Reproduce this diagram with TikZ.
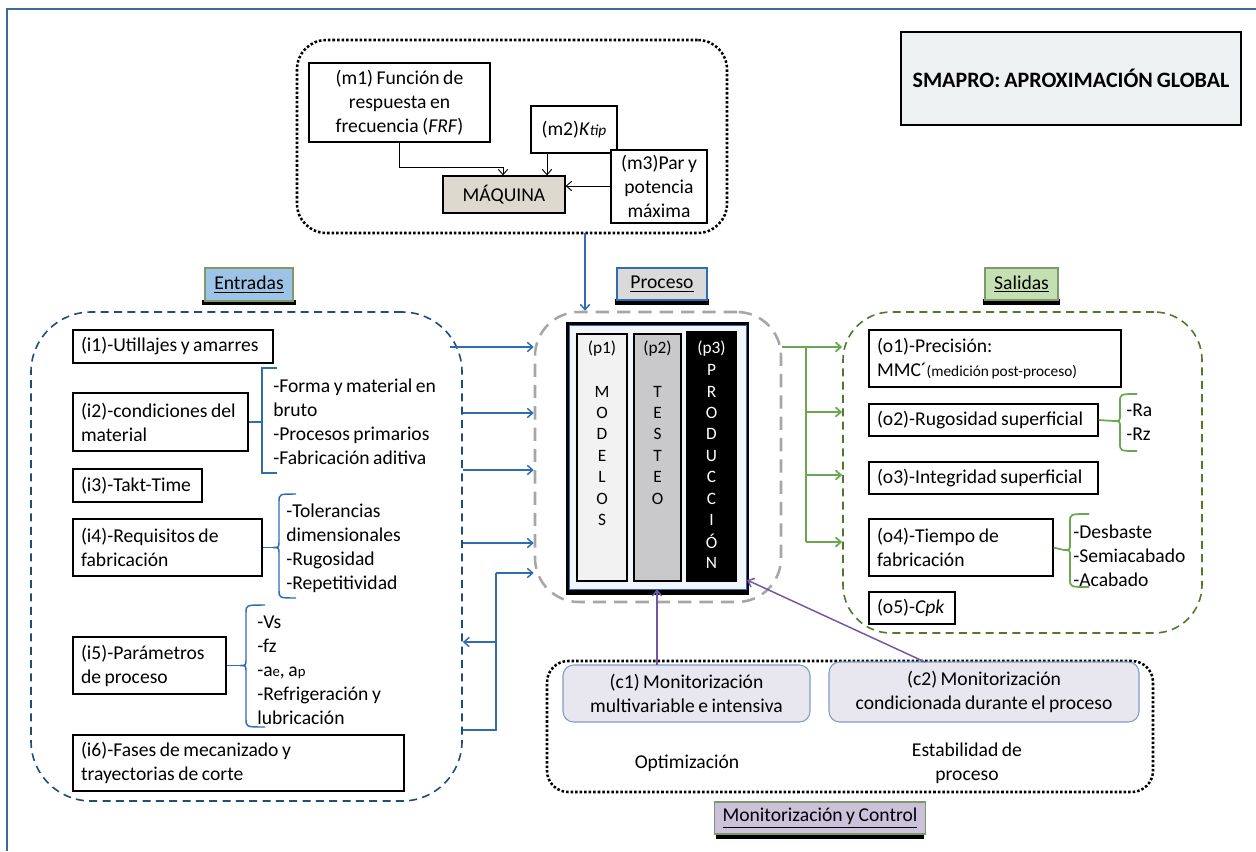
\documentclass[tikz,border=0pt]{standalone}
\usepackage{fontspec}
\setmainfont{Carlito}[WordSpace=0.8]
\usetikzlibrary{arrows.meta,calc}

\definecolor{frameblue}{HTML}{3C6A9C}
\definecolor{arrblue}{HTML}{2E6DB0}
\definecolor{entblue}{HTML}{1F4E79}
\definecolor{salgreen}{HTML}{4F7A2A}
\definecolor{arrgreen}{HTML}{6AA84F}
\definecolor{procgray}{HTML}{A6A6A6}
\definecolor{mpurple}{HTML}{7457A0}
\definecolor{titlegray}{HTML}{EEF1F2}
\definecolor{maqfill}{HTML}{DDD9CE}
\definecolor{entfill}{HTML}{9DC3E6}
\definecolor{salfill}{HTML}{C4DFB2}
\definecolor{profill}{HTML}{DADADA}
\definecolor{monfill}{HTML}{CCC1DA}
\definecolor{lblborder}{HTML}{7F9A68}
\definecolor{cfill}{HTML}{E8E6EF}
\definecolor{cborder}{HTML}{7E9CC6}
\definecolor{p1fill}{HTML}{F2F2F2}
\definecolor{p2fill}{HTML}{C9C9CC}
\definecolor{pinfill}{HTML}{F2F5FA}

\newcommand{\tbox}[7][]{%
  \pgfmathsetmacro{\tbW}{(#5-#3)*0.75}%
  \pgfmathsetmacro{\tbH}{(#6-#4)*0.75}%
  \pgfmathsetmacro{\tbT}{\tbW-12}%
  \node[tbox,minimum width=\tbW pt,minimum height=\tbH pt,text width=\tbT pt,#1] (#2) at ({(#3+#5)/2},{(#4+#6)/2}) {#7};}

% curly brace: #1 style, #2 xb, #3 xe, #4 yt, #5 ym, #6 yb, #7 tip x
\newcommand{\cbrace}[7]{%
  \draw[#1] (#3,#4) .. controls (#2,#4) .. (#2,#4+8) -- (#2,#5-7)
     .. controls (#2,#5) .. (#7,#5) .. controls (#2,#5) .. (#2,#5+7)
     -- (#2,#6-8) .. controls (#2,#6) .. (#3,#6);}

\begin{document}
\begin{tikzpicture}[x=0.75pt,y=-0.75pt,
  font=\fontsize{14.7}{18}\selectfont,
  tbox/.style={draw=black,line width=0.9pt,fill=white,inner xsep=6pt,inner ysep=0pt,align=flush left},
  cbox/.style={align=center,text width={}},
  frame/.style={fill=none,text width={}},
  lbl/.style={cbox,draw=lblborder,line width=0.8pt},
  ltext/.style={inner sep=0pt,anchor=west,align=left},
  ctext/.style={inner sep=0pt,align=center},
  coltext/.style={inner sep=0pt,font=\fontsize{13}{15}\selectfont},
  tip/.style={-{Straight Barb[length=4pt,width=7pt]}},
  karr/.style={tip,draw=black,line width=0.7pt},
  barr/.style={tip,draw=arrblue,line width=1.1pt},
  bline/.style={draw=arrblue,line width=1.1pt},
  garr/.style={tip,draw=arrgreen,line width=1.3pt},
  gline/.style={draw=arrgreen,line width=1.3pt},
  parr/.style={tip,draw=mpurple,line width=1.1pt},
  bbrace/.style={draw=arrblue,line width=1.1pt},
  gbrace/.style={draw=arrgreen,line width=1.3pt},
]
\useasboundingbox (0,0) rectangle (1256,851);

% outer frame
\draw[frameblue,line width=2.2pt] (7,851) -- (7,9) -- (1256,9);

% title
\tbox[cbox,fill=titlegray,line width=1.5pt,font=\fontsize{16.5}{19}\selectfont\bfseries]{title}{901}{32}{1241}{125}{SMAPRO: APROXIMACIÓN GLOBAL}

% ---------- machine ----------
\tbox[frame,draw=black,line width=1.9pt,dash pattern=on 1.9pt off 1.5pt,rounded corners=22pt]{mfr}{297}{40}{727}{233}{}
\tbox[cbox]{m1}{309}{63}{490}{142}{(m1) Función de\\respuesta en\\frecuencia (\textit{FRF})}
\tbox[cbox]{m2}{531}{106}{617}{153}{(m2)\textit{K}{\fontsize{11.5}{12}\selectfont\textit{tip}}}
\tbox[cbox]{m3}{611}{150}{707}{223}{(m3)Par y\\potencia\\máxima}
\tbox[cbox,fill=maqfill]{maq}{443}{176}{565}{213}{MÁQUINA}
\coordinate (m1j) at (503,167);
\draw[karr] (m1.south) |- (m1j) -- (m1j |- maq.north);
\coordinate (m2a) at (547,153);
\draw[karr] (m2a) -- (m2a |- maq.north);
\draw[karr] (m3.west |- 0,186) -- (maq.east |- 0,186);

% ---------- labels ----------
\fill[black] (202,300) rectangle (296,305);
\tbox[lbl,fill=entfill]{lent}{205}{268}{293}{301}{\underline{Entradas}}
\fill[black] (615,299) rectangle (709,305);
\tbox[lbl,fill=profill,draw=arrblue]{lpro}{617}{268}{707}{300}{\underline{Proceso}}
\fill[black] (983,299) rectangle (1060,305);
\tbox[lbl,fill=salfill]{lsal}{985}{268}{1058}{300}{\underline{Salidas}}
\fill[black] (716,833) rectangle (924,839);
\tbox[lbl,fill=monfill]{lmon}{718}{802}{922}{834}{\underline{Monitorización y Control}}

% ---------- frames ----------
\tbox[frame,draw=entblue,line width=1.2pt,dash pattern=on 6pt off 4pt,rounded corners=45pt]{ent}{31}{312}{462}{801}{}
\tbox[frame,draw=procgray,line width=1.9pt,dash pattern=on 10pt off 6pt,rounded corners=33pt]{proc}{535}{312}{781}{602}{}
\tbox[frame,draw=salgreen,line width=1.2pt,dash pattern=on 6pt off 4pt,rounded corners=36pt]{sal}{843}{312}{1202}{633}{}
\tbox[frame,draw=black,line width=1.9pt,dash pattern=on 1.9pt off 1.5pt,rounded corners=16pt]{mon}{547}{661}{1153}{792}{}

% machine -> process
\coordinate (ma) at (585,233);
\draw[barr] (ma) -- (ma |- proc.north);

% ---------- process block ----------
\fill[black] (566,322) rectangle (749,595);
\tbox[frame,fill=pinfill,draw=arrblue,line width=0.7pt]{pin}{569}{325}{746}{589}{}
\tbox[frame,fill=p1fill,line width=1.3pt]{p1}{577}{334}{627}{581}{}
\tbox[frame,fill=p2fill,line width=1.3pt]{p2}{634}{334}{681}{581}{}
\tbox[frame,fill=black,line width=1.3pt]{p3}{687}{332}{736}{581}{}
\node[coltext] (p1h) at (602,349) {(p1)};
\foreach \t [count=\k] in {M,O,D,E,L,O,S}
  \node[coltext] (p1l\k) at (602,{370+\k*21.45}) {\t};
\node[coltext] (p2h) at (657.5,349) {(p2)};
\foreach \t [count=\k] in {T,E,S,T,E,O}
  \node[coltext] (p2l\k) at (657.5,{370+\k*21.45}) {\t};
\node[coltext,text=white] (p3h) at (711.5,349) {(p3)};
\foreach \t [count=\k] in {P,R,O,D,U,C,C,I,Ó,N}
  \node[coltext,text=white] (p3l\k) at (711.5,{370+(\k-1)*21.45}) {\t};

% ---------- inputs ----------
\tbox{i1}{73}{330}{273}{363}{(i1)-Utillajes y amarres}
\tbox{i2}{73}{393}{248}{451}{(i2)-condiciones del\\material}
\tbox{i3}{73}{469}{202}{502}{(i3)-Takt-Time}
\tbox{i4}{73}{519}{262}{576}{(i4)-Requisitos de\\fabricación}
\tbox{i5}{73}{637}{226}{694}{(i5)-Parámetros\\de proceso}
\tbox{i6}{73}{735}{404}{791}{(i6)-Fases de mecanizado y\\trayectorias de corte}

\draw[bbrace] (i2.east) -- (262,422);
\draw[bbrace] (277,368) -- (262,368) -- (262,473) -- (277,473);
\node[ltext] (i2l) at (273,421.5) {-Forma y material en\\bruto\\-Procesos primarios\\-Fabricación aditiva};

\draw[bbrace] (i4.east) -- (273,547.5);
\cbrace{bbrace}{279}{296}{494}{547.5}{598}{273}
\node[ltext] (i4l) at (286,548.5) {-Tolerancias\\dimensionales\\-Rugosidad\\-Repetitividad};

\draw[bbrace] (i5.east) -- (240,665.5);
\cbrace{bbrace}{246}{265}{605}{665.5}{727}{240}
\node[ltext] (i5l) at (257,670) {-Vs\\-fz\\-a{\fontsize{11}{12}\selectfont e}, a{\fontsize{11}{12}\selectfont p}\\-Refrigeración y\\lubricación};

% input arrows
\draw[barr] (450,347) -- (proc.west |- 0,347);
\draw[barr] (ent.east |- 0,413) -- (proc.west |- 0,413);
\draw[barr] (ent.east |- 0,470) -- (proc.west |- 0,470);
\draw[barr] (ent.east |- 0,543) -- (proc.west |- 0,543);
\coordinate (ib) at (496,573);
\draw[bline] (ent.east |- 0,730) -| (ib);
\draw[barr] (ib) -- (proc.west |- ib);
\draw[barr] (496,642) -- (ent.east |- 0,642);

% ---------- outputs ----------
\tbox{o1}{869}{330}{1121}{387}{(o1)-Precisión:\\MMC´{\fontsize{11.5}{12}\selectfont(medición post-proceso)}}
\tbox{o2}{869}{404}{1098}{436}{(o2)-Rugosidad superficial}
\tbox{o3}{869}{462}{1098}{494}{(o3)-Integridad superficial}
\tbox{o4}{869}{519}{1053}{576}{(o4)-Tiempo de\\fabricación}
\tbox{o5}{869}{592}{955}{624}{(o5)-\textit{Cpk}}

\draw[gbrace] (o2.east) -- (1114,421);
\cbrace{gbrace}{1120}{1137}{394}{421}{451}{1114}
\node[ltext] (o2l) at (1126,422) {-Ra\\-Rz};

\draw[gbrace] (o4.east) -- (1064,550);
\cbrace{gbrace}{1070}{1089}{514}{550}{587}{1064}
\node[ltext] (o4l) at (1073,555.7) {-Desbaste\\-Semiacabado\\-Acabado};

% output arrows
\coordinate (gv) at (806,347);
\draw[garr] (proc.east |- gv) -- (sal.west |- gv);
\draw[gline] (gv) -- (806,542);
\draw[garr] (806,412) -- (sal.west |- 0,412);
\draw[garr] (806,475) -- (sal.west |- 0,475);
\draw[garr] (806,542) -- (sal.west |- 0,542);

% ---------- monitoring ----------
\tbox[cbox,fill=cfill,draw=cborder,rounded corners=8pt,line width=0.8pt]{c1}{563}{665}{810}{722}{(c1) Monitorización\\multivariable e intensiva}
\tbox[cbox,fill=cfill,draw=cborder,rounded corners=8pt,line width=0.8pt]{c2}{829}{662}{1139}{722}{(c2) Monitorización\\condicionada durante el proceso}
\node[ctext] (opt) at (687,763) {Optimización};
\node[ctext] (est) at (967,763.5) {Estabilidad de\\proceso};

\coordinate (c1a) at (657,665);
\draw[parr] (c1a) -- (c1a |- pin.south);
\coordinate (c2a) at (925,662);
\coordinate (pse) at (747,580);
\draw[parr] (c2a) -- (pse);

\end{tikzpicture}
\end{document}
